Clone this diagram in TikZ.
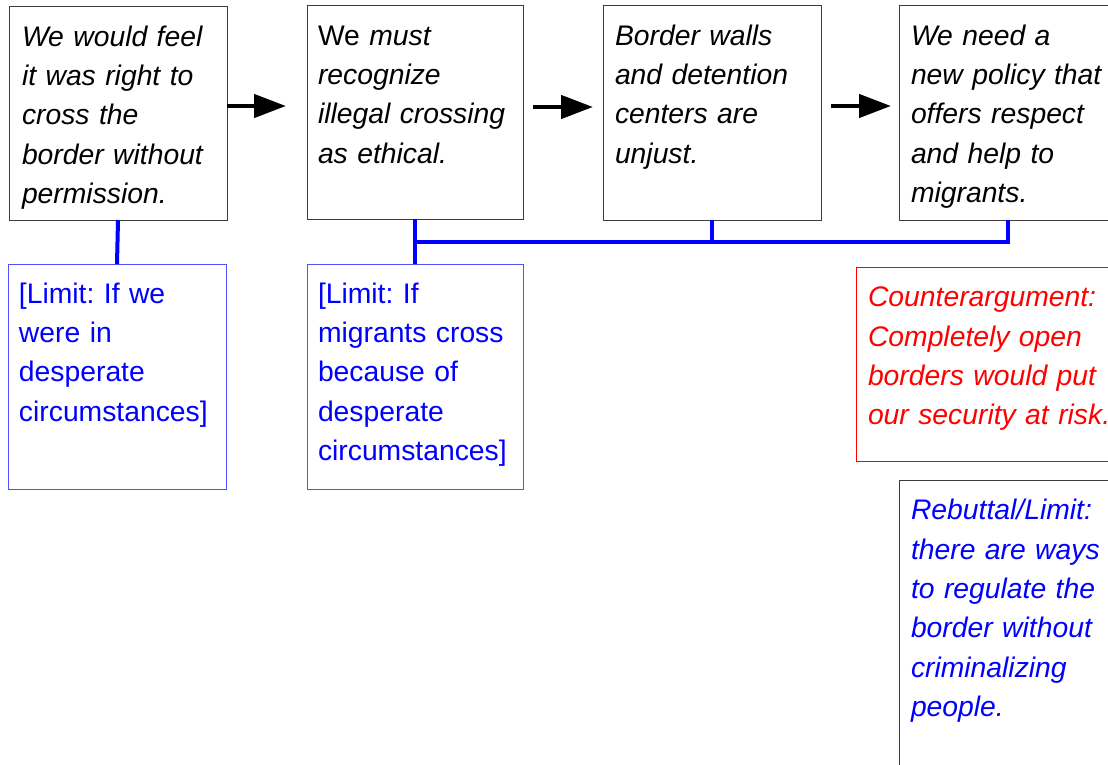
\documentclass[tikz,border=0pt]{standalone}
\usepackage{fontspec}
\setmainfont{Liberation Sans}
\frenchspacing
\usetikzlibrary{arrows.meta}
\definecolor{pureblue}{RGB}{0,0,255}
\definecolor{purered}{RGB}{255,0,0}
\definecolor{frameblue}{RGB}{80,80,255}
\definecolor{framegray}{RGB}{60,60,60}
\tikzset{
  frame/.style={draw=framegray, line width=1pt, rectangle, inner sep=0pt, outer sep=0pt, anchor=north west},
  limitframe/.style={frame, draw=frameblue},
  counterframe/.style={frame, draw=purered},
  label/.style={anchor=north west, inner sep=0pt, outer sep=0pt, text width=320pt, align=left,
    font=\fontsize{28.3}{39.4}\selectfont\frenchspacing},
  claimtext/.style={label, font=\fontsize{28.3}{39.4}\selectfont\itshape\frenchspacing, text=black},
  limittext/.style={label, text=pureblue},
  countertext/.style={label, font=\fontsize{28.3}{39.4}\selectfont\itshape\frenchspacing, text=purered},
  rebuttaltext/.style={label, font=\fontsize{28.3}{39.4}\selectfont\itshape\frenchspacing, text=pureblue},
  flow/.style={line width=4.5pt, -{Triangle[length=32pt,width=23pt]}},
  link/.style={draw=pureblue, line width=4pt}
}
\begin{document}
\begin{tikzpicture}[x=1pt, y=-1pt]
\useasboundingbox (0,0) rectangle (1108,765);
\clip (0,0) rectangle (1108,765);

% top row of claims
\node[frame, minimum width=218pt, minimum height=213pt] (b1) at (9,7) {};
\node[frame, minimum width=216pt, minimum height=213pt] (b2) at (307,6) {};
\node[frame, minimum width=218pt, minimum height=214pt] (b3) at (603,6) {};
\node[frame, minimum width=218pt, minimum height=214pt] (b4) at (899,6) {};

\node[claimtext] (t1) at ([xshift=13pt,yshift=-11.5pt]b1.north west)
  {\strut We would feel\\it was right to\\cross the\\border without\\permission.};
\node[claimtext] (t2) at ([xshift=11pt,yshift=-11.5pt]b2.north west)
  {\strut {\upshape We} must\\recognize\\illegal crossing\\as ethical.};
\node[claimtext] (t3) at ([xshift=12pt,yshift=-11.5pt]b3.north west)
  {\strut Border walls\\and detention\\centers are\\unjust.};
\node[claimtext] (t4) at ([xshift=12pt,yshift=-11.5pt]b4.north west)
  {\strut We need a\\new policy that\\offers respect\\and help to\\migrants.};

% limits, counterargument and rebuttal
\node[limitframe, minimum width=218pt, minimum height=225pt] (l1) at (8,264) {};
\node[limitframe, minimum width=216pt, minimum height=225pt] (l2) at (307,264) {};
\node[counterframe, minimum width=270pt, minimum height=194pt] (c1) at (856,267) {};
\node[frame, minimum width=218pt, minimum height=320pt] (r1) at (899,480) {};

\node[limittext] (lt1) at ([xshift=11pt,yshift=-11.5pt]l1.north west)
  {\strut [Limit: If we\\were in\\desperate\\circumstances]};
\node[limittext] (lt2) at ([xshift=11pt,yshift=-11.5pt]l2.north west)
  {\strut [Limit: If\\migrants cross\\because of\\desperate\\circumstances]};
\node[countertext] (ct) at ([xshift=12pt,yshift=-12.2pt]c1.north west)
  {\strut Counterargument:\\Completely open\\borders would put\\our security at risk.};
\node[rebuttaltext] (rt) at ([xshift=12pt,yshift=-12.2pt]r1.north west)
  {\strut Rebuttal/Limit:\\there are ways\\to regulate the\\border without\\criminalizing\\people.};

% arrows between claims
\draw[flow] ([yshift=7.5pt]b1.east) -- +(59,0);
\draw[flow] ([xshift=10pt,yshift=5.5pt]b2.east) -- +(60,0);
\draw[flow] ([xshift=10pt,yshift=7pt]b3.east) -- +(60,0);

% limit connectors
\draw[link] (b1.south) -- (l1.north);
\draw[link] (b2.south) -- (l2.north);
\coordinate (bus) at ([yshift=-22.5pt]b2.south);
\draw[link] (bus) -| (b3.south);
\draw[link] (bus) -| (b4.south);
\end{tikzpicture}
\end{document}
